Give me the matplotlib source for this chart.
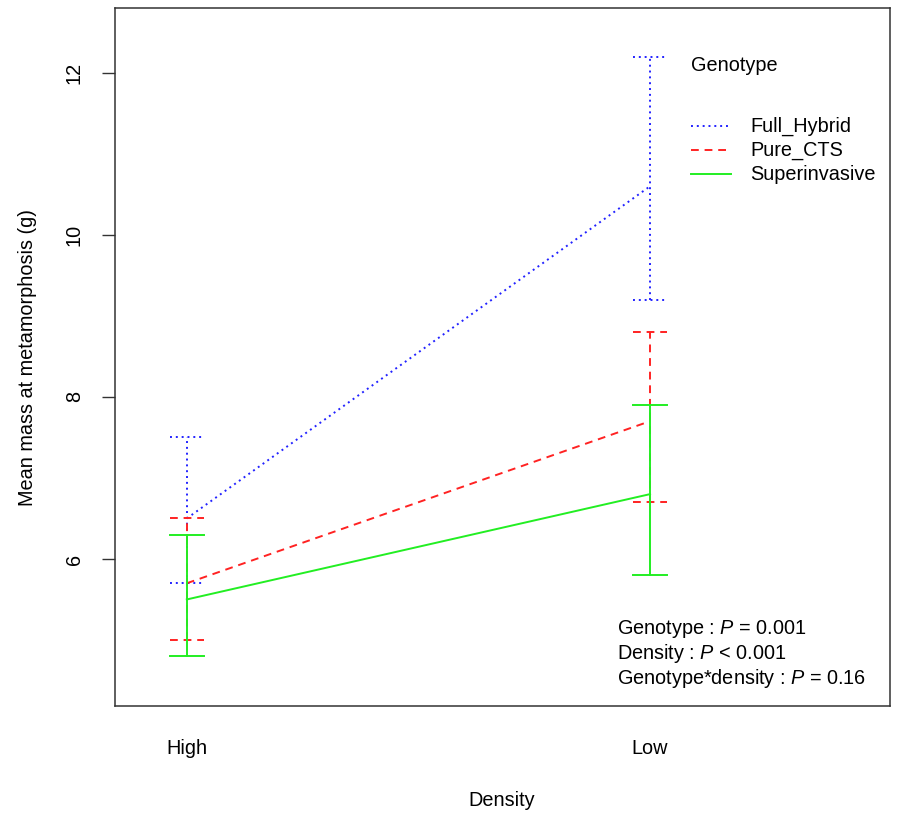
import matplotlib
matplotlib.use("Agg")
import matplotlib.pyplot as plt

plt.rcParams['font.family'] = ['Liberation Sans', 'DejaVu Sans']
plt.rcParams['mathtext.fontset'] = 'custom'
plt.rcParams['mathtext.rm'] = 'Liberation Sans'
plt.rcParams['mathtext.it'] = 'Liberation Sans:italic'

# Data
densities = ["High", "Low"]
genotypes = ["Full_Hybrid", "Pure_CTS", "Superinvasive"]
means = {
    "Full_Hybrid": [6.5, 10.6],
    "Pure_CTS": [5.7, 7.7],
    "Superinvasive": [5.5, 6.8],
}
lower = {
    "Full_Hybrid": [5.7, 9.2],
    "Pure_CTS": [5.0, 6.7],
    "Superinvasive": [4.8, 5.8],
}
upper = {
    "Full_Hybrid": [7.5, 12.2],
    "Pure_CTS": [6.5, 8.8],
    "Superinvasive": [6.3, 7.9],
}
stats_lines = [
    r"Genotype : $P$ = 0.001",
    r"Density : $P$ < 0.001",
    r"Genotype*density : $P$ = 0.16",
]

FS = 14.3
colors = {"Full_Hybrid": "#2222ff", "Pure_CTS": "#ff2222", "Superinvasive": "#22ee22"}
styles = {"Full_Hybrid": (0, (1, 2)), "Pure_CTS": (0, (4, 3)), "Superinvasive": "-"}

fig = plt.figure(figsize=(9, 8.16), dpi=100)
ax = fig.add_axes([115 / 900, 1 - 706 / 816, 775 / 900, 698 / 816])

xpos = [1, 2]
cap = 0.037
for g in genotypes:
    c, ls = colors[g], styles[g]
    ax.plot(xpos, means[g], color=c, linestyle=ls, lw=1.4)
    for x, lo, hi in zip(xpos, lower[g], upper[g]):
        ax.plot([x, x], [lo, hi], color=c, linestyle=ls, lw=1.4)
        ax.plot([x - cap, x + cap], [lo, lo], color=c, linestyle=ls, lw=1.4)
        ax.plot([x - cap, x + cap], [hi, hi], color=c, linestyle=ls, lw=1.4)

ax.set_xlim(0.845, 2.518)
ax.set_ylim(4.185, 12.80)
ax.set_yticks([6, 8, 10, 12])
ax.set_yticklabels(["6", "8", "10", "12"], rotation=90, va="center", fontsize=FS)
ax.tick_params(axis="y", length=9.5, width=1, pad=13, color="#333333")
ax.set_xticks([])
for s in ax.spines.values():
    s.set_linewidth(1.1)
    s.set_color("#333333")

for x, lab in zip(xpos, densities):
    ax.text(x, (706 - 749) / 698, lab, transform=ax.get_xaxis_transform(), ha="center",
            va="center", fontsize=FS)
fig.text(502 / 900, 1 - 801 / 816, "Density", ha="center", va="center", fontsize=FS)
ax.set_ylabel("Mean mass at metamorphosis (g)", fontsize=FS)
ax.yaxis.set_label_coords((37 - 115) / 775, 0.5)

# Legend drawn in axes coordinates
def ax_xy(px, py):
    return ((px - 115) / 775, (706 - py) / 698)

tx, ty = ax_xy(691, 65)
ax.text(tx, ty, "Genotype", transform=ax.transAxes, ha="left", va="center", fontsize=FS)
for i, g in enumerate(genotypes):
    py = 126 + 24.2 * i
    x0, y0 = ax_xy(691, py)
    x1, _ = ax_xy(731, py)
    ax.plot([x0, x1], [y0, y0], transform=ax.transAxes, color=colors[g],
            linestyle=styles[g], lw=1.4)
    lx, _ = ax_xy(750, py)
    ax.text(lx, y0, g, transform=ax.transAxes, ha="left", va="center", fontsize=FS)

for i, line in enumerate(stats_lines):
    sx, sy = ax_xy(617, 629 + 24.5 * i)
    ax.text(sx, sy, line, transform=ax.transAxes, ha="left", va="center", fontsize=FS)

fig.savefig("out.png", dpi=100)
